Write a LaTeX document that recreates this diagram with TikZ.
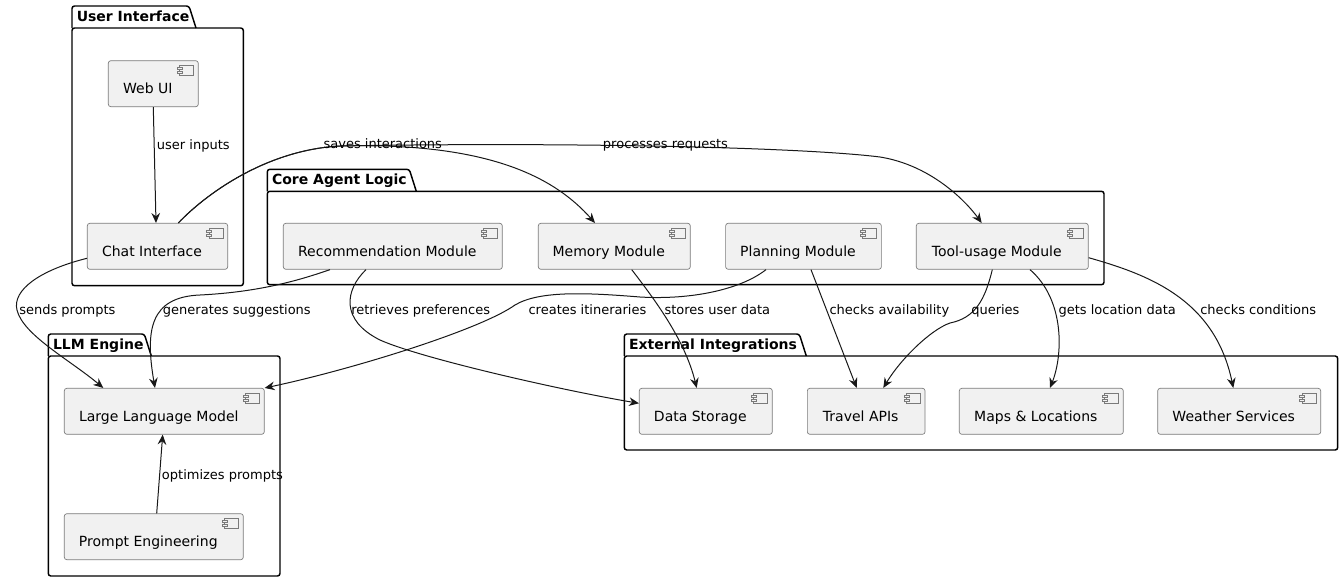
\documentclass[tikz,border=0pt]{standalone}
\usepackage{fontspec}
\setmainfont{DejaVu Sans}
\usetikzlibrary{arrows.meta,calc}
\definecolor{ink}{HTML}{181818}
\definecolor{compline}{HTML}{7A7A7A}
\definecolor{compfill}{HTML}{F1F1F1}
\tikzset{
  comp/.style={
    draw=compline, line width=0.5pt, fill=compfill, rounded corners=1.9pt,
    minimum width=#1, inner xsep=2pt, inner ysep=0pt,
    text height=24.75pt, text depth=9.75pt,
    font=\fontsize{10.5pt}{12pt}\selectfont,
    execute at end node={\hspace{8.25pt}}
  },
  pkg/.style={draw=black, line width=1.1pt, rounded corners=1.9pt},
  pkgtitle/.style={anchor=base west, inner sep=0pt,
    font=\fontsize{10.5pt}{12pt}\selectfont\bfseries},
  lbl/.style={anchor=base west, inner sep=0pt,
    font=\fontsize{9.75pt}{11pt}\selectfont},
  link/.style={draw=ink, line width=0.75pt,
    -{Stealth[length=7.5pt,width=6.5pt,inset=2.5pt]}},
  icon/.style={draw=compline, line width=0.45pt, fill=compfill}
}

\begin{document}
\begin{tikzpicture}[x=0.75pt, y=-0.75pt]
  \useasboundingbox (0,0) rectangle (1343,582);

  % Packages (tab + body)
  \foreach \pL/\pT/\pS/\pR/\pB/\pN/\pTitle in {
      72/6/189/243.3/285.7/ui/User Interface,
      267.3/169.3/409.3/1104/284.7/core/Core Agent Logic,
      48.3/334/144.3/280/576/engine/LLM Engine,
      624.3/334/799.3/1337.7/450/ext/External Integrations}
  {
    \draw[pkg] (\pL,\pT+22) -- (\pL,\pT) -- (\pS,\pT) -- (\pS+7,\pT+22);
    \draw[pkg] (\pL,\pT+22) rectangle (\pR,\pB);
    \node[pkgtitle] (\pN) at (\pL+4.5,\pT+15) {\pTitle};
  }

  % Components
  \node[comp=67.5pt]   (webui)   at (153.3,83.7)  {Web UI};
  \node[comp=105.3pt]  (chat)    at (157.5,246.3) {Chat Interface};
  \node[comp=164.25pt] (rec)     at (392.8,246.3) {Recommendation Module};
  \node[comp=114pt]    (mem)     at (614.3,246.3) {Memory Module};
  \node[comp=116.8pt]  (plan)    at (803.5,246.3) {Planning Module};
  \node[comp=129pt]    (tool)    at (1002.3,246.3) {Tool-usage Module};
  \node[comp=150pt]    (llm)     at (164.3,411.3) {Large Language Model};
  \node[comp=134.25pt] (prompt)  at (153.8,536.7) {Prompt Engineering};
  \node[comp=99.75pt]  (store)   at (705.8,411.3) {Data Storage};
  \node[comp=88.3pt]   (travel)  at (866.2,411.3) {Travel APIs};
  \node[comp=123pt]    (maps)    at (1041.3,411.3) {Maps \& Locations};
  \node[comp=122.25pt] (weather) at (1239.2,411.3) {Weather Services};

  % component icons
  \foreach \n in {webui,chat,rec,mem,plan,tool,llm,prompt,store,travel,maps,weather} {
    \draw[icon] ($(\n.north east)+(-19,5)$) rectangle +(14,10);
    \draw[icon] ($(\n.north east)+(-21.5,7)$) rectangle +(5,2);
    \draw[icon] ($(\n.north east)+(-21.5,11)$) rectangle +(5,2);
  }

  % Links
  \draw[link] (webui.south) -- ($(chat.north)+(-1.5,0)$);
  \draw[link] ($(chat.north)+(20.8,0)$) .. controls (205,195) and (265,150) .. (340,146)
    .. controls (490,142) and (555,178) .. ($(mem.north)+(-19.3,0)$);
  \draw[link] ($(chat.north)+(20.8,0)$) .. controls (205,195) and (265,150) .. (340,146)
    .. controls (560,142) and (800,147) .. (880,157)
    .. controls (930,165) and (965,200) .. ($(tool.north)+(-20.6,0)$);
  \draw[link] ($(chat.west)+(0,12)$) .. controls (40,270) and (12,290) .. (17,310)
    .. controls (23,335) and (70,360) .. ($(llm.north)+(-61,0)$);
  \draw[link] ($(rec.south)+(-62.8,0)$) .. controls (300,280) and (260,292) .. (200,295)
    .. controls (150,297) and (145,330) .. ($(llm.north)+(-9.3,0)$);
  \draw[link] ($(rec.south)+(-26.8,0)$) .. controls (345,290) and (340,320) .. (380,340)
    .. controls (420,358) and (560,390) .. ($(store.west)+(0,-8)$);
  \draw[link] ($(plan.south)+(-37.5,0)$) .. controls (740,290) and (690,300) .. (640,297)
    .. controls (590,293) and (540,290) .. (515,305)
    .. controls (480,330) and (350,370) .. (llm.north east);
  \draw[link] ($(mem.south)+(17.4,0)$) .. controls (655,300) and (685,340) .. ($(store.north)+(-9.1,0)$);
  \draw[link] ($(plan.south)+(7.5,0)$) -- ($(travel.north)+(-9.5,0)$);
  \draw[link] ($(tool.south)+(-10,0)$) .. controls (985,300) and (975,318) .. (950,323)
    .. controls (930,330) and (900,360) .. ($(travel.north)+(17.1,0)$);
  \draw[link] ($(tool.south)+(27.7,0)$) .. controls (1065,300) and (1063,355) .. ($(maps.north)+(8.7,0)$);
  \draw[link] ($(tool.east)+(0,11.4)$) .. controls (1150,275) and (1215,300) .. ($(weather.north)+(-5.9,0)$);
  \draw[link] ($(prompt.north)+(2.9,0)$) -- ($(llm.south)+(-1.6,0)$);

  % Link labels
  \node[lbl] (lbinputs)  at (156.7,149)   {user inputs};
  \node[lbl] (lbsaves)   at (323.3,148)   {saves interactions};
  \node[lbl] (lbprocess) at (602.7,148)   {processes requests};
  \node[lbl] (lbsends)   at (19,314.7)    {sends prompts};
  \node[lbl] (lbsuggest) at (162.7,314.7) {generates suggestions};
  \node[lbl] (lbprefs)   at (351,314.7)   {retrieves preferences};
  \node[lbl] (lbitin)    at (528.3,314.7) {creates itineraries};
  \node[lbl] (lbstores)  at (664.3,314.7) {stores user data};
  \node[lbl] (lbavail)   at (829.3,314.7) {checks availability};
  \node[lbl] (lbqueries) at (971,314.7)   {queries};
  \node[lbl] (lblocation) at (1058.3,314.7) {gets location data};
  \node[lbl] (lbweather) at (1200,314.7)  {checks conditions};
  \node[lbl] (lboptim)   at (161.7,479.7) {optimizes prompts};

\end{tikzpicture}
\end{document}
